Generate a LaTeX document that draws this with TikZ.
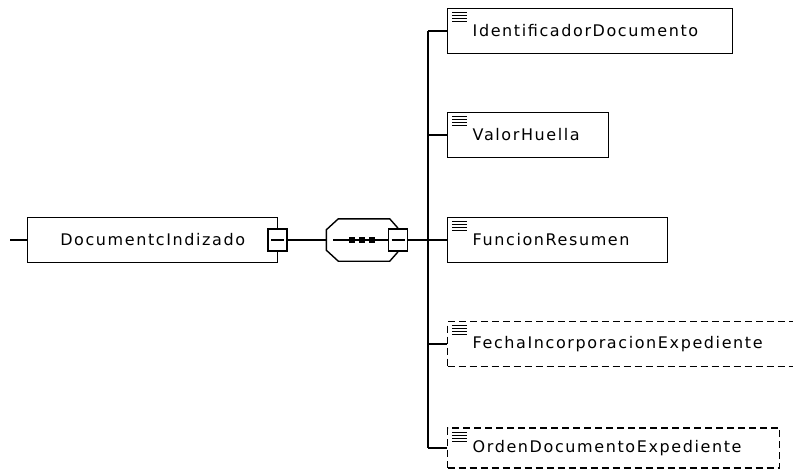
\documentclass[tikz,border=0pt]{standalone}
\usepackage{fontspec}
\setmainfont{DejaVu Sans}[LetterSpace=10]
\usetikzlibrary{positioning}
\newcommand{\taillep}{\fontsize{16}{18}\selectfont}
\newcommand{\icone}[1]{\foreach \dy in {5,8,11,14} \draw[line width=1.1pt] ([shift={(5,\dy)}]#1.north west) -- ++(15,0);}

\tikzset{
  elem/.style={draw,line width=1.4pt,minimum height=45,inner xsep=25,inner ysep=0,anchor=west,align=left,font=\taillep},
  optel/.style={elem,dash pattern=on 7pt off 4pt},
  moins/.style={draw,fill=white,line width=1.4pt,minimum width=19,minimum height=22,inner sep=0,
    path picture={\draw[line width=1.4pt] ([xshift=3pt]path picture bounding box.west) -- ([xshift=-3pt]path picture bounding box.east);}},
  pastille/.style={fill=black,minimum size=6,inner sep=0}
}

\begin{document}
\begin{tikzpicture}[x=1pt,y=-1pt,line width=1.4pt]
        \useasboundingbox (0,0) rectangle (793,471);
        \coordinate (rootin) at (10,240);
        \node[elem,minimum width=250,inner xsep=0,align=center] (root) at (27,240) {DocumentcIndizado};
        \draw (rootin) -- (root.west);
        \node[moins] (rootm) at (277.5,240) {};
        \node[minimum width=70,minimum height=41,inner sep=0] (seq) at (362,240) {};
        \draw (rootm.east) -- (seq.west);
        \draw ([xshift=12pt]seq.north west) -- ([xshift=-8pt]seq.north east) -- ([yshift=-9pt]seq.north east) -- ([yshift=9pt]seq.south east) -- ([xshift=-8pt]seq.south east) -- ([xshift=12pt]seq.south west) -- ([yshift=11pt]seq.south west) -- ([yshift=-11pt]seq.north west) -- cycle;
        \node[moins] (seqm) at (398,240) {};
        \coordinate (seqin) at (333,240);
        \draw (seqin) -- (seqm.west);
        \node[pastille] (d1) at (352,240) {};
        \node[pastille] (d2) at (362,240) {};
        \node[pastille] (d3) at (372,240) {};
        % elements of the sequence
        \coordinate (sptop) at (428,31);
        \coordinate (spbot) at (428,448);
        \draw (sptop) -- (spbot);
        \draw (seqm.east) -- (seqm.east -| sptop);
        \node[elem,text width=235pt] (iddoc) at (447,31) {IdentificadorDocumento};
        \draw (sptop) -- (iddoc.west);
        \icone{iddoc}
        \node[elem,text width=111pt] (valor) at (447,135) {ValorHuella};
        \draw (valor.west -| sptop) -- (valor.west);
        \icone{valor}
        \node[elem,text width=170pt] (funcion) at (447,240) {FuncionResumen};
        \draw (funcion.west -| sptop) -- (funcion.west);
        \icone{funcion}
        \node[optel,text width=305pt] (fecha) at (447,344) {FechaIncorporacionExpediente};
        \draw (fecha.west -| sptop) -- (fecha.west);
        \icone{fecha}
        \node[optel,text width=282pt,minimum height=40] (orden) at (447,448) {OrdenDocumentoExpediente};
        \draw (spbot) -- (orden.west);
        \icone{orden}
\end{tikzpicture}
\end{document}
